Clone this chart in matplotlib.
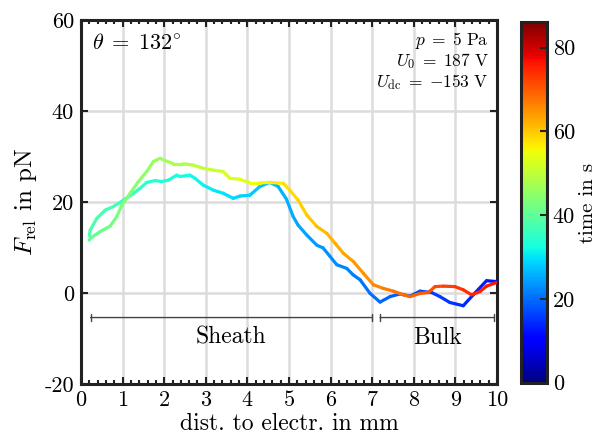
import numpy as np
import matplotlib
matplotlib.use("Agg")
import matplotlib.pyplot as plt
from matplotlib.collections import LineCollection
from matplotlib.ticker import MultipleLocator

plt.rcParams["font.family"] = "serif"
plt.rcParams["font.serif"] = ["cmr10"]
plt.rcParams["mathtext.fontset"] = "cm"
plt.rcParams["axes.unicode_minus"] = False
plt.rcParams["axes.formatter.use_mathtext"] = False

# first pass: electrode -> bulk read backwards (x from 10 down to 0.2)
x_a = [10.0, 9.75, 9.43, 9.19, 8.87, 8.63, 8.43, 8.15, 7.91, 7.67, 7.43, 7.19,
       6.95, 6.71, 6.54, 6.39, 6.15, 5.99, 5.82, 5.67, 5.43, 5.22, 5.1, 4.94,
       4.74, 4.54, 4.3, 4.06, 3.82, 3.66, 3.42, 3.18, 2.94, 2.74, 2.62, 2.38,
       2.3, 2.1, 1.94, 1.78, 1.58, 1.42, 1.26, 1.02, 0.78, 0.58, 0.38, 0.22, 0.2]
y_a = [2.5, 2.7, -0.4, -2.8, -2.1, -0.8, 0.1, 0.4, -0.7, -0.2, -0.8, -2.0,
       -0.1, 2.9, 4.0, 5.4, 6.2, 8.0, 9.9, 10.5, 12.7, 14.9, 16.8, 20.6,
       23.4, 24.3, 23.4, 21.5, 21.3, 20.8, 21.9, 22.6, 23.7, 25.2, 25.9, 25.6,
       25.9, 24.8, 24.5, 24.7, 24.3, 23.0, 21.9, 20.4, 19.0, 18.2, 16.4, 13.8, 12.6]
t_a = [12.0, 12.7, 13.6, 14.2, 15.1, 15.7, 16.3, 17.0, 17.7, 18.3, 19.0, 19.6,
       20.3, 20.9, 21.4, 21.8, 22.4, 22.8, 23.3, 23.7, 24.3, 24.9, 25.2, 25.6,
       26.2, 26.7, 27.3, 28.0, 28.6, 29.1, 29.7, 30.3, 31.0, 31.5, 31.8, 32.5,
       32.7, 33.2, 33.6, 34.1, 34.6, 35.0, 35.5, 36.1, 36.7, 37.3, 37.8, 38.2, 38.3]

# second pass: x from 0.2 up to 10
x_b = [0.2, 0.22, 0.46, 0.7, 0.86, 0.98, 1.18, 1.38, 1.58, 1.74, 1.9, 2.02,
       2.22, 2.46, 2.7, 2.94, 3.18, 3.42, 3.58, 3.82, 4.06, 4.3, 4.54, 4.86,
       5.02, 5.22, 5.43, 5.67, 5.91, 6.11, 6.31, 6.55, 6.79, 7.03, 7.27, 7.51,
       7.75, 7.91, 8.15, 8.35, 8.51, 8.71, 8.99, 9.19, 9.39, 9.59, 9.75, 9.99]
y_b = [11.6, 12.0, 13.5, 14.7, 16.8, 19.3, 21.9, 24.5, 26.7, 28.9, 29.6, 29.1,
       28.4, 28.4, 28.1, 27.4, 27.0, 26.7, 25.2, 25.0, 24.2, 24.2, 24.3, 24.1,
       22.6, 20.4, 17.1, 14.6, 13.1, 10.9, 8.7, 6.9, 4.3, 1.8, 1.0, 0.4,
       -0.4, -0.8, -0.1, 0.1, 1.4, 1.5, 1.4, 0.7, -0.4, 0.3, 1.5, 2.3]
t_b = [40.0, 40.1, 41.0, 41.9, 42.5, 43.0, 43.7, 44.5, 45.2, 45.8, 46.4, 46.9,
       47.6, 48.5, 49.4, 50.3, 51.2, 52.1, 52.7, 53.6, 54.5, 55.4, 56.3, 57.5,
       58.1, 58.8, 59.6, 60.5, 61.4, 62.2, 62.9, 63.8, 64.7, 65.6, 66.5, 67.4,
       68.3, 68.9, 69.8, 70.5, 71.1, 71.9, 72.9, 73.7, 74.4, 75.2, 75.8, 76.7]

t_max = 86
regions = ["Sheath", "Bulk"]
region_start = [0.23, 7.19]
region_end = [6.99, 9.94]

fig = plt.figure(figsize=(5.98, 4.48), dpi=100)
ax = fig.add_axes([0.1355, 0.1429, 0.6955, 0.8125])
cax = fig.add_axes([0.871, 0.146, 0.044, 0.804])

norm = plt.Normalize(0, t_max)
cmap = plt.get_cmap("jet")


def add_colored(x, y, t):
    x = np.asarray(x)
    y = np.asarray(y)
    t = np.asarray(t)
    pts = np.column_stack([x, y]).reshape(-1, 1, 2)
    segs = np.concatenate([pts[:-1], pts[1:]], axis=1)
    lc = LineCollection(segs, cmap=cmap, norm=norm, linewidth=2.3,
                        capstyle="round", joinstyle="round", zorder=3)
    lc.set_array(0.5 * (t[:-1] + t[1:]))
    ax.add_collection(lc)
    return lc


lc = add_colored(x_a, y_a, t_a)
add_colored(x_b, y_b, t_b)

ax.set_xlim(0, 10)
ax.set_ylim(-20, 60)
ax.xaxis.set_major_locator(MultipleLocator(1))
ax.xaxis.set_minor_locator(MultipleLocator(0.2))
ax.yaxis.set_major_locator(MultipleLocator(20))
ax.grid(True, which="major", color="#dcdcdc", linewidth=1.8, zorder=0)
ax.set_axisbelow(True)
ax.tick_params(which="both", direction="in", top=True, right=True,
               labelsize=16, width=1.5, color="#222222", pad=5)
ax.tick_params(which="major", length=5)
ax.tick_params(which="minor", length=3)
for s in ax.spines.values():
    s.set_linewidth(2.2)
    s.set_color("#222222")

ax.set_xlabel("dist. to electr. in mm", fontsize=17, labelpad=2)
ax.set_ylabel(r"$F_\mathrm{rel}$ in pN", fontsize=18, labelpad=4)

ax.text(0.27, 55.0, r"$\theta\;=\;132^{\circ}$", fontsize=16, va="center", ha="left")
ax.text(9.8, 55.4, r"$p\;=\;5\ \mathrm{Pa}$", fontsize=12.5, ha="right", va="center")
ax.text(9.8, 50.9, r"$U_0\;=\;187\ \mathrm{V}$", fontsize=12.5, ha="right", va="center")
ax.text(9.8, 46.3, r"$U_\mathrm{dc}\;=\;{-}153\ \mathrm{V}$", fontsize=12.5, ha="right", va="center")

for name, a, b in zip(regions, region_start, region_end):
    ax.annotate("", xy=(a, -5.4), xytext=(b, -5.4),
                arrowprops=dict(arrowstyle="|-|, widthA=0.25, widthB=0.25",
                                color="#444444", lw=1.0, shrinkA=0, shrinkB=0))
    ax.text((a + b) / 2, -9.8, name, fontsize=17, ha="center", va="center")

cb = fig.colorbar(lc, cax=cax)
cb.set_ticks([0, 20, 40, 60, 80])
cb.outline.set_linewidth(2.2)
cb.outline.set_edgecolor("#222222")
cax.tick_params(direction="in", length=5, width=1.5, labelsize=16, color="#222222", pad=4)
cb.set_label("time in s", fontsize=15, labelpad=3)

fig.savefig("out.png", dpi=100)
